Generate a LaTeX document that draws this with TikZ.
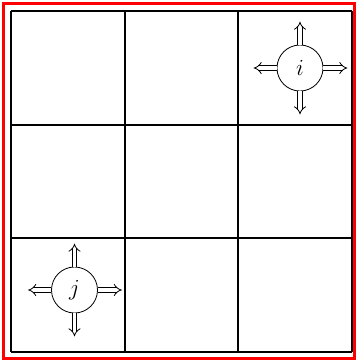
\documentclass[tikz,border=0pt]{standalone}
\usetikzlibrary{arrows.meta,calc}

\tikzset{
  agen/.style={draw, circle, line width=0.6pt, minimum size=34.5pt, inner sep=0pt, font=\LARGE},
  panah/.style={double, double distance=2.6pt, line width=0.6pt, -{Implies}}
}

\begin{document}
\begin{tikzpicture}[x=0.75pt, y=-0.75pt]
\useasboundingbox (0,0) rectangle (358,362);

% bingkai merah
\draw[red, line width=1.9pt] (3.5,3.5) rectangle (354.5,358.5);

% kisi 3x3
\foreach \k in {0,1,2,3} {
    \draw[line width=1.5pt] ({11+113.67*\k},11) -- ({11+113.67*\k},352);
    \draw[line width=1.5pt] (11,{11+113.67*\k}) -- (352,{11+113.67*\k});
}

% agen i dan j
\node[agen] (i) at (300,68) {$i$};
\node[agen] (j) at (74.5,290) {$j$};

% panah gerak
\foreach \n in {i,j} {
    \foreach \a/\dx/\dy in {north/0/-23, south/0/23, east/24/0, west/-23/0} {
        \coordinate (\n-\a) at ($(\n.\a)+(\dx,\dy)$);
        \draw[panah] (\n.\a) -- (\n-\a);
    }
}

\end{tikzpicture}
\end{document}
